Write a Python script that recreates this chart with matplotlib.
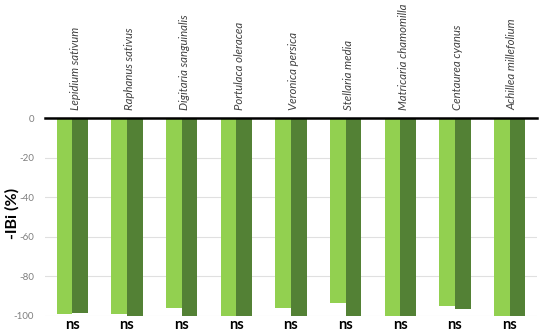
import matplotlib
matplotlib.use("Agg")
import matplotlib.pyplot as plt
import numpy as np
from matplotlib.transforms import blended_transform_factory

plt.rcParams['font.family'] = ['Lato', 'DejaVu Sans']

species = ["Lepidium sativum", "Raphanus sativus", "Digitaria sanguinalis",
           "Portulaca oleracea", "Veronica persica", "Stellaria media",
           "Matricaria chamomilla", "Centaurea cyanus", "Achillea millefolium"]
series_light = [-99, -99, -96, -100, -96, -93.5, -100, -95, -100]
series_dark = [-98.5, -100, -100, -100, -100, -100, -100, -96.5, -100]
sig_labels = ["ns"] * 9
yticks = [0, -20, -40, -60, -80, -100]

fig = plt.figure(figsize=(5.5, 3.34), dpi=100)
ax = fig.add_axes([0.0818, 0.0539, 0.8945, 0.5928])

x = np.arange(len(species))
w = 0.285
ax.bar(x - w/2, series_light, width=w, color="#92D050", zorder=3)
ax.bar(x + w/2, series_dark, width=w, color="#538135", zorder=3)

ax.set_xlim(-0.5, len(species) - 0.5)
ax.set_ylim(-100, 0)
ax.set_yticks(yticks)
ax.set_yticklabels([str(t) for t in yticks], color="#7f7f7f", fontsize=7)
ax.tick_params(axis='y', length=0, pad=8)
ax.tick_params(axis='x', length=0, labelbottom=False)
ax.yaxis.grid(True, color="#e0e0e0", linewidth=0.8, zorder=0)
for s in ["left", "right", "bottom"]:
    ax.spines[s].set_visible(False)
ax.spines["top"].set_color("black")
ax.spines["top"].set_linewidth(1.8)
ax.spines["top"].set_zorder(5)

trans = blended_transform_factory(ax.transData, ax.transAxes)
for i, name in enumerate(species):
    ax.text(i + 0.05, 1.04, name, rotation=90, ha="center", va="bottom",
            fontsize=8.2, style="italic", color="#404040", transform=trans)
    ax.text(i, -0.012, sig_labels[i], ha="center", va="top", fontsize=10.5,
            fontweight="bold", color="black", transform=trans)

fig.text(0.022, 0.36, "-IBi (%)", rotation=90, ha="center", va="center",
         fontsize=11.5, fontweight="bold", color="black")

fig.savefig("out.png", dpi=100)
